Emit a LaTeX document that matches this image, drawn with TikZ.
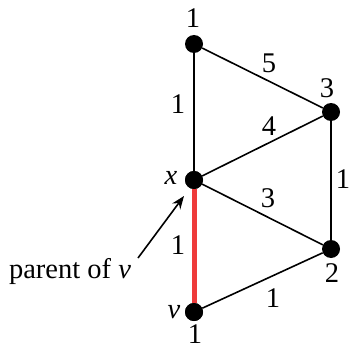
\documentclass[tikz,border=0pt]{standalone}
\usepackage{fontspec}
\setmainfont{Liberation Serif}
\usetikzlibrary{arrows.meta,positioning}
\definecolor{TreeRed}{HTML}{EE3B3B}
\tikzset{
  vertex/.style={circle,fill=black,inner sep=0pt,minimum size=18pt},
  elabel/.style={font=\fontsize{28.5}{32}\selectfont,inner sep=1pt},
  graphedge/.style={line width=1.6pt,color=black},
  treeedge/.style={line width=5pt,color=TreeRed},
  pointer/.style={-{Stealth[length=13pt,width=10pt]},line width=1.6pt},
}
\begin{document}
\begin{tikzpicture}[x=1pt,y=-1pt]
  \useasboundingbox (0,0) rectangle (349,350);
  % Vertices
  \node[vertex] (top) at (194,44) {};
  \node[vertex] (ru) at (331,112) {};
  \node[vertex] (x) at (194,180) {};
  \node[vertex] (rl) at (331,249) {};
  \node[vertex] (v) at (194,312) {};

  % Vertex labels
  \node[elabel] (ltop) at (193,18) {1};
  \node[elabel] (lru) at (327,88) {3};
  \node[elabel] (lx) at (171,178) {\textit{x}};
  \node[elabel] (lrl) at (332,273) {2};
  \node[elabel] (lv) at (174,312) {\textit{v}};
  \node[elabel] (lvb) at (195,334) {1};

  % Edges
  \draw[treeedge] (x) -- (v);
  \draw[graphedge] (top) -- (x);
  \draw[graphedge] (top) -- (ru);
  \draw[graphedge] (x) -- (ru);
  \draw[graphedge] (ru) -- (rl);
  \draw[graphedge] (x) -- (rl);
  \draw[graphedge] (v) -- (rl);
  \node[vertex] at (x) {};
  \node[vertex] at (v) {};

  % Edge weights
  \node[elabel] (w1) at (178,104) {1};
  \node[elabel] (w5) at (269,63) {5};
  \node[elabel] (w4) at (269,126) {4};
  \node[elabel] (w6) at (343,179) {1};
  \node[elabel] (w3) at (268,198) {3};
  \node[elabel] (w2) at (178,245) {1};
  \node[elabel] (w7) at (273,298) {1};

  % Parent pointer
  \node[elabel] (parent) at (70,271) {parent of \textit{v}};
  \coordinate (ptail) at (138,258);
  \coordinate (phead) at (184,196);
  \draw[pointer] (ptail) -- (phead);
\end{tikzpicture}
\end{document}
